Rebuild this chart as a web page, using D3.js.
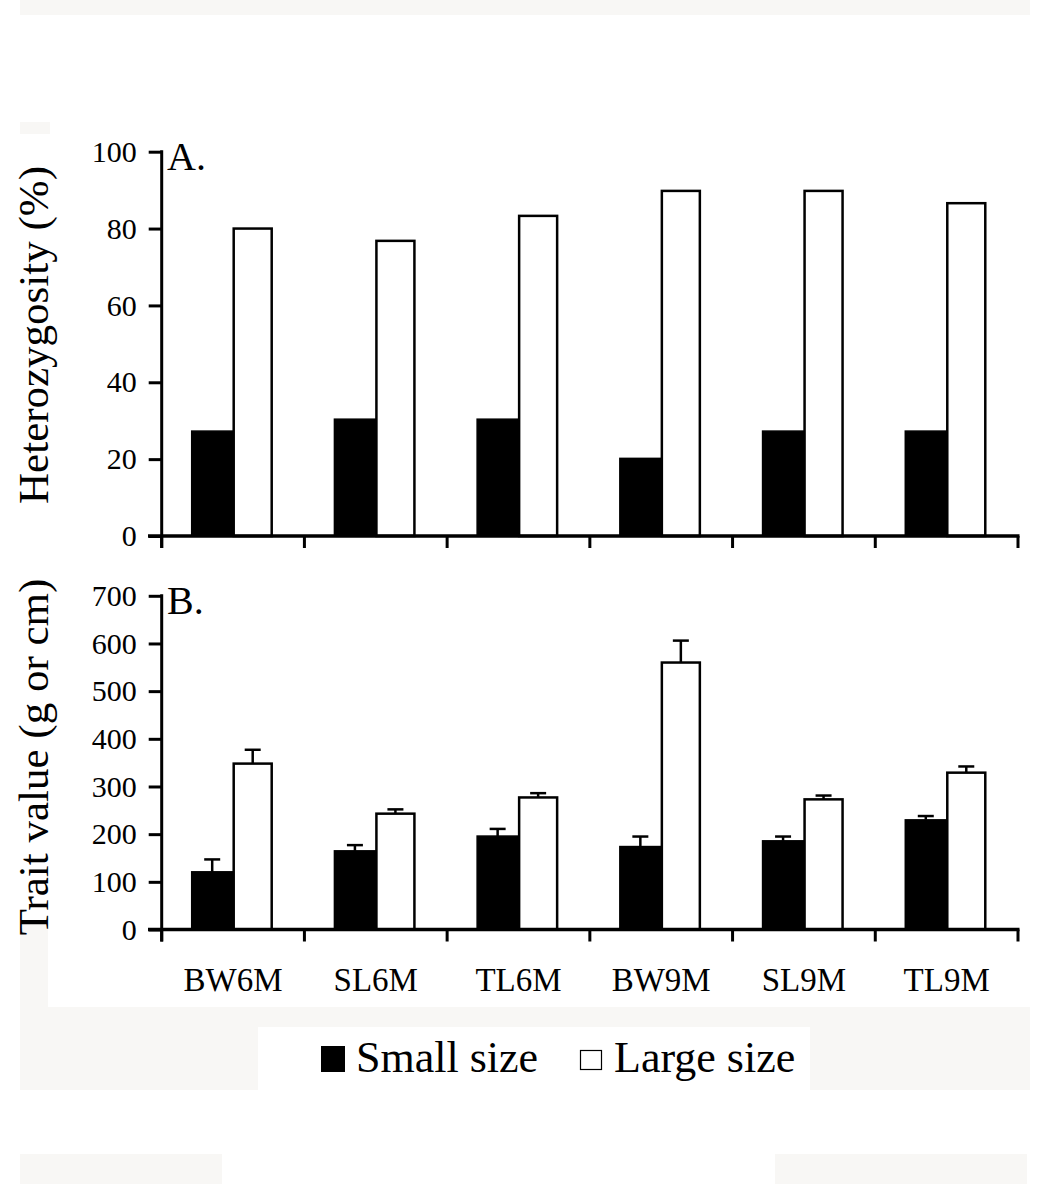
<!DOCTYPE html>
<html>
<head>
<meta charset="utf-8">
<script src="https://cdn.jsdelivr.net/npm/d3@7"></script>
<style>
  body { margin: 0; background: #fff; }
  svg { display: block; font-family: "Liberation Serif", "Times New Roman", serif; }
</style>
</head>
<body>
<div id="viz"></div>
<script>
// categories and values
const categories = ["BW6M", "SL6M", "TL6M", "BW9M", "SL9M", "TL9M"];
const groups = ["Small size", "Large size"];

const hetSmall = [27.3, 30.4, 30.4, 20.2, 27.3, 27.3];
const hetLarge = [80.0, 76.8, 83.3, 89.8, 89.8, 86.6];

const traitSmall = [121, 165, 196, 174, 186, 230];
const traitSmallErr = [26, 12, 15, 21, 9, 8];
const traitLarge = [348, 243, 277, 560, 273, 329];
const traitLargeErr = [29, 9, 9, 46, 8, 13];

const hetTicks = [0, 20, 40, 60, 80, 100];
const traitTicks = [0, 100, 200, 300, 400, 500, 600, 700];

const WIDTH = 1050, HEIGHT = 1184;
const BG = "#f8f7f5";

const svg = d3.select("#viz").append("svg")
  .attr("width", WIDTH)
  .attr("height", HEIGHT);

// faint scan background patches
const patches = [
  [20, 0, 1010, 15], [20, 122, 30, 12],
  [20, 922, 28, 90], [20, 1007, 1010, 83],
  [20, 1154, 202, 30], [775, 1154, 252, 30]
];
svg.append("g").selectAll("rect").data(patches).join("rect")
  .attr("x", d => d[0]).attr("y", d => d[1])
  .attr("width", d => d[2]).attr("height", d => d[3])
  .attr("fill", BG);
svg.append("rect")
  .attr("x", 258).attr("y", 1027).attr("width", 552).attr("height", 63)
  .attr("fill", "#fff");

const x = d3.scaleBand().domain(categories).range([161.7, 1018]).padding(0);
const xSub = d3.scaleBand().domain(groups).range([30, 112]).padding(0);

function panel({ y, small, large, smallErr, largeErr, ticks, label, title, titleY, showLabels }) {
  const g = svg.append("g");
  const y0 = y(0);

  // bars
  const rows = categories.map((c, i) => ({ c, i }));
  g.selectAll(".small").data(rows).join("rect")
    .attr("x", d => x(d.c) + xSub("Small size"))
    .attr("y", d => y(small[d.i]))
    .attr("width", xSub.bandwidth())
    .attr("height", d => y0 - y(small[d.i]))
    .attr("fill", "#000")
    .attr("stroke", "#000")
    .attr("stroke-width", 1.5);
  g.selectAll(".large").data(rows).join("rect")
    .attr("x", d => x(d.c) + xSub("Large size") + 1)
    .attr("y", d => y(large[d.i]))
    .attr("width", xSub.bandwidth() - 3)
    .attr("height", d => y0 - y(large[d.i]))
    .attr("fill", "#fff")
    .attr("stroke", "#000")
    .attr("stroke-width", 2.5);

  // error bars (upper only)
  if (smallErr) {
    const errs = [];
    rows.forEach(d => {
      errs.push({ cx: x(d.c) + xSub("Small size") + xSub.bandwidth() / 2, v: small[d.i], e: smallErr[d.i] });
      errs.push({ cx: x(d.c) + xSub("Large size") + xSub.bandwidth() / 2 - 0.5, v: large[d.i], e: largeErr[d.i] });
    });
    const eg = g.append("g").attr("stroke", "#000").attr("stroke-width", 2.5);
    eg.selectAll(".stem").data(errs).join("line")
      .attr("x1", d => d.cx).attr("x2", d => d.cx)
      .attr("y1", d => y(d.v)).attr("y2", d => y(d.v + d.e));
    eg.selectAll(".cap").data(errs).join("line")
      .attr("x1", d => d.cx - 8).attr("x2", d => d.cx + 8)
      .attr("y1", d => y(d.v + d.e)).attr("y2", d => y(d.v + d.e));
  }

  // y axis
  const ya = g.append("g")
    .attr("transform", "translate(161.7,0)")
    .call(d3.axisLeft(y).tickValues(ticks).tickSize(13).tickPadding(12).tickFormat(d3.format("d")));
  ya.select(".domain").remove();
  ya.selectAll(".tick line").attr("stroke", "#000").attr("stroke-width", 3);
  ya.selectAll(".tick text")
    .attr("fill", "#000")
    .style("font-family", "Liberation Serif, serif")
    .style("font-size", "30px");
  g.append("line")
    .attr("x1", 161.7).attr("x2", 161.7)
    .attr("y1", y(ticks[ticks.length - 1]) - 1.5).attr("y2", y0 + 12)
    .attr("stroke", "#000").attr("stroke-width", 3);

  // x axis with boundary ticks
  g.append("line")
    .attr("x1", 148).attr("x2", 1019.5)
    .attr("y1", y0).attr("y2", y0)
    .attr("stroke", "#000").attr("stroke-width", 3.5);
  const bounds = categories.map(c => x(c)).concat([x.range()[1]]);
  g.selectAll(".btick").data(bounds).join("line")
    .attr("x1", d => d).attr("x2", d => d)
    .attr("y1", y0).attr("y2", y0 + 12)
    .attr("stroke", "#000").attr("stroke-width", 3);

  if (showLabels) {
    const xa = g.append("g")
      .attr("transform", `translate(0,${y0})`)
      .call(d3.axisBottom(x).tickSize(0).tickPadding(38));
    xa.select(".domain").remove();
    xa.selectAll(".tick text")
      .attr("fill", "#000")
      .style("font-family", "Liberation Serif, serif")
      .style("font-size", "33px");
  }

  // panel letter
  g.append("text")
    .attr("x", 167)
    .attr("y", y(ticks[ticks.length - 1]) + 18)
    .style("font-size", "40px")
    .text(label);

  // y title
  g.append("text")
    .attr("transform", `translate(48,${titleY}) rotate(-90)`)
    .attr("text-anchor", "middle")
    .style("font-size", "43px")
    .text(title);
}

panel({
  y: d3.scaleLinear().domain([0, 100]).range([536, 151.7]),
  small: hetSmall, large: hetLarge,
  ticks: hetTicks, label: "A.",
  title: "Heterozygosity (%)", titleY: 335, showLabels: false
});

panel({
  y: d3.scaleLinear().domain([0, 700]).range([929.5, 595.8]),
  small: traitSmall, large: traitLarge,
  smallErr: traitSmallErr, largeErr: traitLargeErr,
  ticks: traitTicks, label: "B.",
  title: "Trait value (g or cm)", titleY: 757, showLabels: true
});

// legend
const legend = svg.append("g").style("font-size", "44px");
legend.append("rect")
  .attr("x", 321).attr("y", 1046).attr("width", 24).attr("height", 26)
  .attr("fill", "#000");
legend.append("text").attr("x", 356).attr("y", 1072).text(groups[0]);
legend.append("rect")
  .attr("x", 580.5).attr("y", 1050.5).attr("width", 21).attr("height", 19)
  .attr("fill", "#fff").attr("stroke", "#000").attr("stroke-width", 1.2);
legend.append("text").attr("x", 614).attr("y", 1072).text(groups[1]);
</script>
</body>
</html>
